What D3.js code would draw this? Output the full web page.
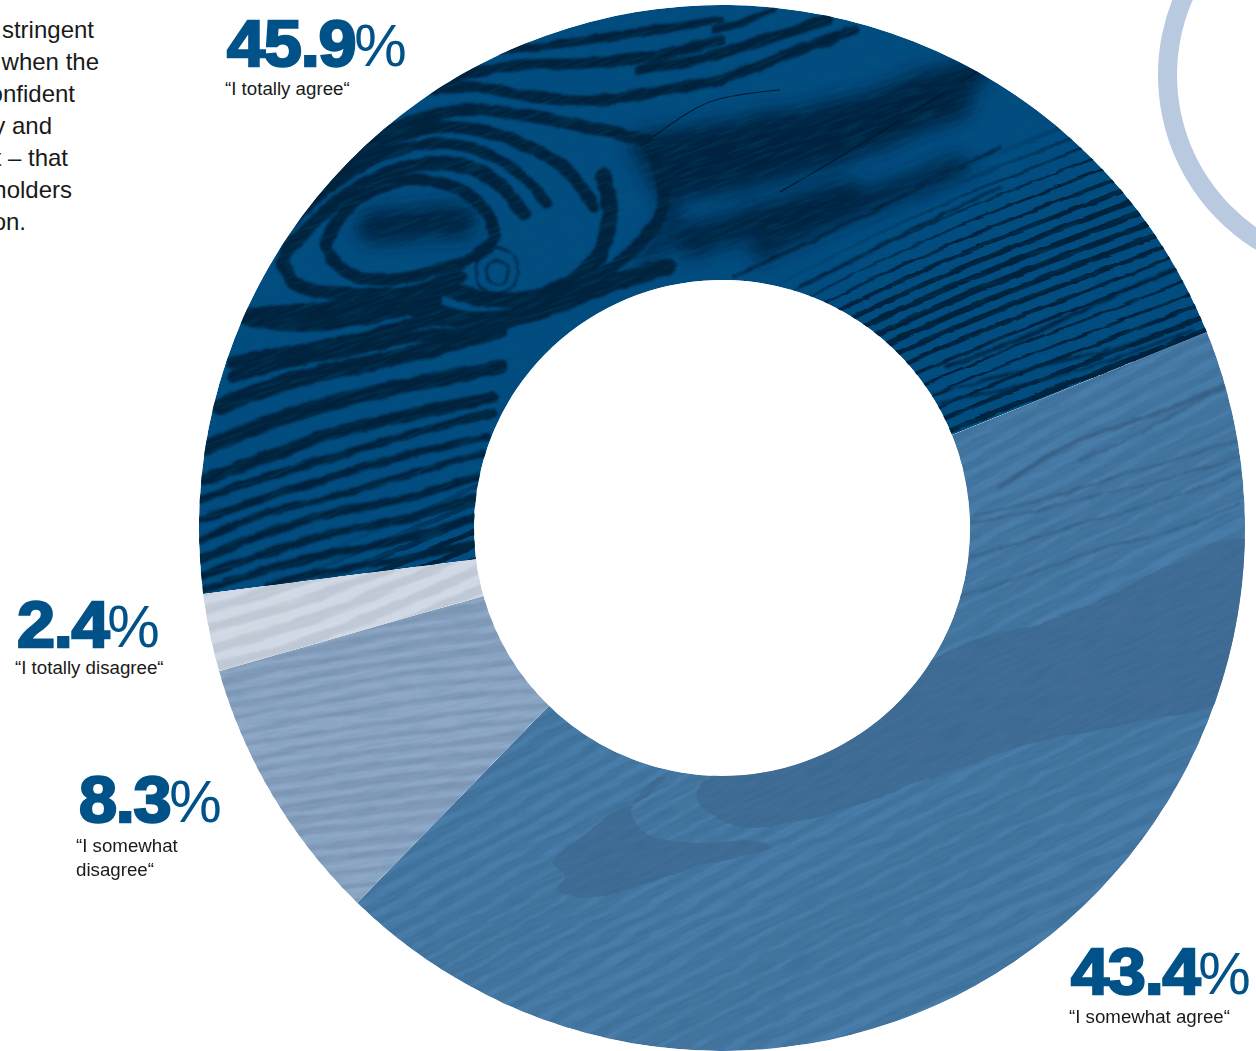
<!DOCTYPE html>
<html>
<head>
<meta charset="utf-8">
<script src="https://cdn.jsdelivr.net/npm/d3@7"></script>
<style>
  html, body { margin: 0; padding: 0; background: #fff; overflow: hidden; }
  svg { display: block; }
  text { font-family: "Liberation Sans", Arial, sans-serif; }
</style>
</head>
<body>
<svg id="chart" width="1256" height="1051"></svg>
<script>
// Chart data
const categories = ['I totally agree', 'I somewhat agree', 'I somewhat disagree', 'I totally disagree'];
const values = [45.9, 43.4, 8.3, 2.4];
const numberLabels = ['45.9', '43.4', '8.3', '2.4'];
const answerLines = [['“I totally agree“'], ['“I somewhat agree“'], ['“I somewhat', 'disagree“'], ['“I totally disagree“']];
const introLines = ['stringent', 'when the', 'confident', 'y and', 't – that', 'holders', 'on.'];

const width = 1256, height = 1051;
const cx = 722, cy = 528, outerR = 523, innerR = 248;
const startDeg = 262.75;
const toRad = d => d * Math.PI / 180;

// Wood texture (not chart data)
const crop = (ox, oy, pts) => pts.map(p => [ox + p[0] / 3, oy + p[1] / 3]);
const knotCrop = pts => crop(200, 0, pts);
const darkStrokes = [
  [14, [[250, 317], [300, 313], [367, 307], [433, 300]]],
  [10, [[233, 363], [300, 350], [367, 337], [433, 320], [500, 323]]],
  [12, [[220, 407], [267, 388], [333, 370], [400, 357], [500, 330]]],
  [11, [[207, 447], [267, 423], [333, 403], [400, 387], [500, 367]]],
  [9, [[203, 480], [267, 457], [333, 433], [400, 417], [493, 397]]],
  [6, [[200, 500], [267, 477], [333, 457], [400, 437], [493, 413]]],
  [6, [[200, 520], [267, 497], [333, 477], [400, 457], [487, 437]]],
  [5, [[200, 540], [267, 513], [333, 497], [400, 477], [483, 453]]],
  [6, [[200, 560], [267, 533], [333, 513], [400, 500], [477, 477]]],
  [6, [[200, 577], [267, 553], [333, 533], [400, 520], [477, 497]]],
  [6, [[203, 590], [267, 570], [333, 553], [400, 540], [477, 517]]],
  [5, [[267, 585], [333, 570], [400, 560], [477, 543]]],
  [13, [[243, 317], [300, 323], [360, 317], [417, 307], [467, 320], [533, 313], [600, 287], [667, 267]]],
  [10, knotCrop([[970, 640], [870, 530], [720, 490], [560, 520], [430, 590], [320, 690], [250, 780], [300, 860], [450, 880], [620, 880], [780, 830]])],
  [8, knotCrop([[1040, 610], [980, 540], [860, 460], [720, 430], [560, 460], [420, 540], [300, 640], [200, 760], [150, 840]])],
  [9, knotCrop([[1180, 620], [1100, 510], [960, 430], [780, 380], [620, 400], [460, 480], [340, 570], [240, 680]])],
  [12, knotCrop([[1210, 530], [1230, 650], [1180, 790], [1040, 880], [880, 900], [720, 860]])],
  [9, knotCrop([[1340, 420], [1380, 520], [1390, 620], [1330, 720], [1180, 840], [1000, 930], [850, 990], [650, 1010], [450, 1050], [250, 1090], [100, 1130]])],
  [9, knotCrop([[270, 640], [380, 530], [480, 450], [620, 370], [800, 330], [1000, 350], [1200, 390], [1340, 420]])],
  [8, knotCrop([[600, 290], [800, 260], [1000, 290], [1200, 300], [1400, 270], [1560, 240]])],
  [8, knotCrop([[760, 230], [950, 195], [1150, 190], [1350, 170], [1560, 120]])],
  [6, knotCrop([[900, 150], [1100, 130], [1300, 100], [1560, 60]])],
  [8, [[640, 70], [707, 57], [773, 37], [827, 20]]],
  [5, [[715, 30], [740, 23], [773, 10]]],
  [8, [[715, 82], [773, 60], [853, 30]]],
  [3, [[733, 277], [840, 227], [1000, 147]]],
  [3, [[800, 287], [907, 233], [1000, 187]]],
  [4, crop(900, 0, [[140, 1100], [400, 1000], [700, 860], [820, 810]])],
  [2, crop(900, 0, [[100, 1180], [300, 1130], [500, 1080], [700, 1030], [900, 950]])],
  [2, crop(900, 0, [[110, 1210], [350, 1160], [600, 1090], [880, 990]])]
];
const darkRings = [
  [9, knotCrop([[860, 640], [780, 570], [650, 540], [520, 570], [420, 650], [380, 740], [430, 810], [540, 840], [680, 820], [800, 780], [880, 720]])],
  [2, knotCrop([[830, 800], [880, 745], [940, 770], [950, 840], [900, 880], [840, 860]])],
  [2, knotCrop([[860, 810], [890, 780], [920, 800], [915, 845], [875, 850]])]
];
const softDark = [
  [26, [[643, 147], [740, 130], [840, 113], [940, 80], [977, 70]]],
  [14, [[647, 167], [670, 207], [667, 233], [640, 260]]],
  [34, knotCrop([[520, 680], [640, 670], [780, 660]])],
  [20, [[760, 250], [860, 205], [960, 165]]],
  [50, [[680, 175], [800, 150], [950, 95]]],
  [30, [[690, 240], [850, 195]]]
];
const cracks = [
  [[780, 192], [873, 137], [977, 72]],
  [[640, 147], [707, 103], [780, 90]]
];
const midPatches = [
  [[699, 803], [743, 827], [840, 810], [917, 783], [1034, 743], [1131, 723], [1250, 685], [1250, 540], [1173, 563], [1107, 597], [1040, 623], [977, 640], [930, 660], [800, 720], [720, 770], [700, 785]],
  [[563, 850], [553, 863], [566, 877], [556, 890], [583, 898], [626, 890], [694, 867], [772, 847], [743, 840], [694, 843], [646, 833], [631, 810], [655, 780], [665, 777], [646, 797], [607, 817], [578, 840]]
];
const midLines = [
  [4, [[1000, 487], [1073, 443], [1173, 407], [1223, 387]]],
  [2, [[973, 523], [1040, 510], [1107, 493], [1173, 477], [1240, 457]]],
  [2, crop(940, 330, [[90, 680], [300, 620], [500, 560], [700, 500], [900, 430]])],
  [2, crop(940, 330, [[60, 800], [300, 720], [500, 650], [700, 600], [900, 520]])],
  [2, crop(940, 330, [[100, 560], [300, 510], [500, 450], [700, 390], [890, 330]])],
  [2, crop(940, 330, [[420, 390], [600, 310], [800, 200], [860, 170]])]
];

const svg = d3.select('#chart');
const defs = svg.append('defs');

// Filters for the wood look
function roughFilter(id, freq, scale, blur) {
  const f = defs.append('filter').attr('id', id).attr('filterUnits', 'userSpaceOnUse')
    .attr('x', 0).attr('y', 0).attr('width', width).attr('height', height);
  f.append('feTurbulence').attr('type', 'fractalNoise').attr('baseFrequency', freq)
    .attr('numOctaves', 3).attr('seed', 4).attr('result', 'n');
  f.append('feDisplacementMap').attr('in', 'SourceGraphic').attr('in2', 'n')
    .attr('scale', scale).attr('xChannelSelector', 'R').attr('yChannelSelector', 'G').attr('result', 'd');
  f.append('feGaussianBlur').attr('in', 'd').attr('stdDeviation', blur);
}
roughFilter('rough', '0.04 0.1', 5, 1.1);
roughFilter('roughFine', '0.02 0.1', 4, 0.5);
roughFilter('roughLong', '0.006 0.05', 8, 0.8);
roughFilter('soft', '0.02 0.05', 8, 9);

function grainFilter(id, freq, rgb, gain, bias) {
  const f = defs.append('filter').attr('id', id).attr('filterUnits', 'userSpaceOnUse')
    .attr('x', -400).attr('y', -400).attr('width', width + 800).attr('height', height + 800);
  f.append('feTurbulence').attr('type', 'fractalNoise').attr('baseFrequency', freq)
    .attr('numOctaves', 3).attr('seed', 9);
  f.append('feColorMatrix').attr('type', 'matrix')
    .attr('values', `0 0 0 0 ${rgb[0]} 0 0 0 0 ${rgb[1]} 0 0 0 0 ${rgb[2]} ${gain} 0 0 0 ${bias}`);
}
grainFilter('grainDark', '0.03 0.3', [0, 0.1, 0.2], 2.6, -1.1);
grainFilter('grainLight', '0.015 0.25', [0.8, 0.86, 0.94], 2.2, -1.0);

// Fade for the fine lines on the right of the dark slice
const fade = defs.append('linearGradient').attr('id', 'seamFade').attr('gradientUnits', 'userSpaceOnUse')
  .attr('x1', 900).attr('y1', 205).attr('x2', 930).attr('y2', 255);
fade.append('stop').attr('offset', 0).attr('stop-color', '#000');
fade.append('stop').attr('offset', 1).attr('stop-color', '#fff');
defs.append('mask').attr('id', 'seamMask').attr('maskUnits', 'userSpaceOnUse')
  .attr('x', 0).attr('y', 0).attr('width', width).attr('height', height)
  .append('rect').attr('width', width).attr('height', height).attr('fill', 'url(#seamFade)');

// Donut slices
const pie = d3.pie().sort(null)
  .startAngle(toRad(startDeg)).endAngle(toRad(startDeg + 360));
const arc = d3.arc().innerRadius(innerR).outerRadius(outerR);
const arcs = pie(values);

// Grain fields
const across = (x, y, deg) => (x - cx) * Math.sin(toRad(deg)) + (y - cy) * Math.cos(toRad(deg));
function thinField(x, y) {
  const v = across(x, y, 25);
  const phase = v / 13 + 0.8 * Math.sin(x / 130 + 1);
  return Math.sin(2 * Math.PI * phase) - 0.45 + 0.35 * Math.sin(v / 23);
}
function midField(x, y) {
  const v = across(x, y, 27);
  const phase = v / 17 + 0.9 * Math.sin(x / 190 + y / 260);
  return Math.sin(2 * Math.PI * phase) - 0.3 + 0.45 * Math.sin(v / 31 + x / 200);
}
function slateField(x, y) {
  const v = across(x, y, 9);
  const phase = v / 14 + 0.5 * Math.sin(x / 110 + y / 150);
  return Math.sin(2 * Math.PI * phase) - 0.1 + 0.4 * Math.sin(v / 27);
}
function paleField(x, y) {
  const phase = across(x, y, 20) / 19 + 0.3 * Math.sin(x / 70);
  return Math.sin(2 * Math.PI * phase) - 0.05;
}

const step = 2;
const gridW = Math.ceil(width / step), gridH = Math.ceil(height / step);
const geo = d3.geoPath(d3.geoIdentity().scale(step));
function bands(field) {
  const grid = new Float64Array(gridW * gridH);
  for (let j = 0; j < gridH; j++) {
    for (let i = 0; i < gridW; i++) grid[j * gridW + i] = field(i * step, j * step);
  }
  return geo(d3.contours().size([gridW, gridH]).thresholds([0])(grid)[0]);
}

const openCurve = d3.line().curve(d3.curveCatmullRom);
const closedCurve = d3.line().curve(d3.curveCatmullRomClosed);

function strokes(g, list, color, filter, gen, gain) {
  g.append('g').attr('filter', `url(#${filter})`).attr('fill', 'none').attr('stroke', color)
    .attr('stroke-linecap', 'round')
    .selectAll('path').data(list).join('path')
    .attr('stroke-width', d => d[0] * (gain && d[0] > 4 ? gain : 1)).attr('d', d => (gen || openCurve)(d[1]));
}

const sliceBase = ['#024c80', '#44759f', '#8ea8c6', '#bfc8d5'];
const grainStyle = [['grainDark', -20, 0.3], ['grainDark', -24, 0.12], ['grainDark', -9, 0.08], ['grainLight', -18, 0.2]];
const painters = [
  g => {
    strokes(g, softDark, '#01243f', 'soft');
    strokes(g, darkStrokes, '#01233e', 'rough', null, 1.35);
    strokes(g, darkRings, '#01233e', 'rough', closedCurve, 1.35);
    g.append('g').attr('mask', 'url(#seamMask)').append('path')
      .attr('d', bands(thinField)).attr('fill', '#01233e').attr('filter', 'url(#roughFine)');
    g.append('g').attr('fill', 'none').attr('stroke', '#01182b').attr('stroke-width', 1.1)
      .selectAll('path').data(cracks).join('path').attr('d', openCurve);
  },
  g => {
    g.append('path').attr('d', bands(midField)).attr('fill', '#4e81ae').attr('opacity', 0.7).attr('filter', 'url(#roughLong)');
    strokes(g, midLines, '#3a6289', 'rough');
    g.append('g').attr('filter', 'url(#roughFine)').selectAll('path').data(midPatches).join('path')
      .attr('d', d => closedCurve(d)).attr('fill', '#3f6b94').attr('opacity', 0.92);
  },
  g => g.append('path').attr('d', bands(slateField)).attr('fill', '#7a93b1').attr('opacity', 0.65).attr('filter', 'url(#roughLong)'),
  g => g.append('path').attr('d', bands(paleField)).attr('fill', '#d2dae6').attr('opacity', 0.9).attr('filter', 'url(#roughLong)')
];

const donut = svg.append('g');
arcs.forEach((d, i) => {
  const clipId = 'slice' + i;
  defs.append('clipPath').attr('id', clipId).append('path')
    .attr('transform', `translate(${cx},${cy})`).attr('d', arc(d));
  const g = donut.append('g').attr('class', 'slice').attr('clip-path', `url(#${clipId})`);
  g.append('path').attr('transform', `translate(${cx},${cy})`).attr('d', arc(d)).attr('fill', sliceBase[i]);
  painters[i](g);
  g.append('rect').attr('x', -400).attr('y', -400).attr('width', width + 800).attr('height', height + 800)
    .attr('transform', `rotate(${grainStyle[i][1]} ${cx} ${cy})`)
    .attr('filter', `url(#${grainStyle[i][0]})`).attr('opacity', grainStyle[i][2]);
});

// Pale ring at the top right
svg.append('path')
  .attr('transform', 'translate(1363,75)')
  .attr('d', d3.arc().innerRadius(186).outerRadius(205).startAngle(0).endAngle(2 * Math.PI)())
  .attr('fill', '#b8c9e0');

// Text
const labelPos = [[226, 66], [1070, 994], [78, 822], [16, 647]];
const answerGap = [29, 29, 30, 27];
const numberStretch = 1.07;
const labels = svg.append('g').selectAll('g').data(categories).join('g')
  .attr('transform', (d, i) => `translate(${labelPos[i][0]},${labelPos[i][1]})`);

labels.each(function (d, i) {
  const g = d3.select(this);
  const num = g.append('text').attr('class', 'number').attr('x', 1)
    .attr('transform', `scale(${numberStretch},1)`)
    .attr('font-size', 64).attr('font-weight', 700).attr('letter-spacing', -1.2)
    .attr('fill', '#005288').attr('stroke', '#005288').attr('stroke-width', 2.4)
    .text(numberLabels[i]);
  g.append('text').attr('class', 'percent').attr('x', num.node().getComputedTextLength() * numberStretch)
    .attr('font-size', 59).attr('fill', '#005288').text('%');
  g.selectAll('text.answer').data(answerLines[i]).join('text')
    .attr('class', 'answer').attr('x', i === 2 ? -2 : -1).attr('y', (s, k) => answerGap[i] + k * 24)
    .attr('font-size', 18.7).attr('fill', '#1a1a1a').text(s => s);
});

const introEnd = [94, 99, 75, 52, 68, 72, 26];
svg.append('g').selectAll('text').data(introLines).join('text')
  .attr('x', (d, i) => introEnd[i]).attr('y', (d, i) => 38 + i * 32)
  .attr('text-anchor', 'end').attr('font-size', 24).attr('fill', '#1a1a1a').text(d => d);
</script>
</body>
</html>
